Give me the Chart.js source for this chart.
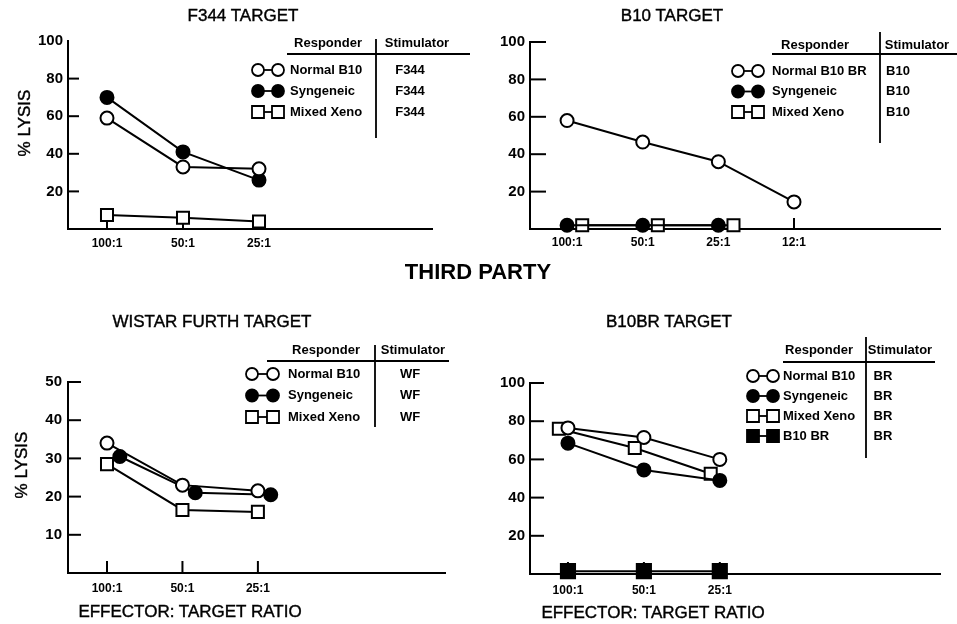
<!DOCTYPE html>
<html>
<head>
<meta charset="utf-8">
<title>Third party lysis</title>
<script src="https://cdn.jsdelivr.net/npm/chart.js@4.4.1/dist/chart.umd.min.js"></script>
<style>
  body { margin: 0; background: #fff; }
  #page { position: relative; width: 957px; height: 624px; overflow: hidden; font-family: "Liberation Sans", Arial, sans-serif; color: #000; }
  #page canvas { position: absolute; left: 0; top: 0; }
  .lbl { position: absolute; transform: translate(-50%, -50%); white-space: nowrap; -webkit-text-stroke: 0.4px #000; }
  .ttl { font-size: 17px; }
  .big { font-size: 22px; font-weight: bold; -webkit-text-stroke: 0; }
  .ylab { font-size: 17px; transform: translate(-50%, -50%) rotate(-90deg); }
  .xlab { font-size: 17px; }
</style>
</head>
<body>
<div id="page">
  <canvas id="f344" width="957" height="624"></canvas>
  <canvas id="b10" width="957" height="624"></canvas>
  <canvas id="wf" width="957" height="624"></canvas>
  <canvas id="b10br" width="957" height="624"></canvas>

  <div class="lbl ttl" style="left:243px;top:16px">F344 TARGET</div>
  <div class="lbl ttl" style="left:672px;top:16px">B10 TARGET</div>
  <div class="lbl big" style="left:478px;top:272px">THIRD PARTY</div>
  <div class="lbl ttl" style="left:212px;top:322px">WISTAR FURTH TARGET</div>
  <div class="lbl ttl" style="left:669px;top:322px">B10BR TARGET</div>
  <div class="lbl ylab" style="left:25px;top:123px">% LYSIS</div>
  <div class="lbl ylab" style="left:22px;top:465px">% LYSIS</div>
  <div class="lbl xlab" style="left:190px;top:612px">EFFECTOR: TARGET RATIO</div>
  <div class="lbl xlab" style="left:653px;top:613px">EFFECTOR: TARGET RATIO</div>
</div>

<script>
// effector : target ratios
var ratios = ['100:1', '50:1', '25:1'];
var ratiosB10 = ['100:1', '50:1', '25:1', '12:1'];

// y axis tick values
var ticks100 = [20, 40, 60, 80, 100];
var ticks50 = [10, 20, 30, 40, 50];

// F344 target, % lysis
var f344Normal = [59, 33, 32];
var f344Syngeneic = [70, 41, 26];
var f344Xeno = [7.5, 6, 4];

// B10 target
var b10Normal = [58, 46.5, 36, 14.5];
var b10Syngeneic = [2, 2, 2];
var b10Xeno = [2, 2, 2];

// Wistar Furth target
var wfNormal = [34, 23, 21.5];
var wfSyngeneic = [30.5, 21, 20.5];
var wfXeno = [28.5, 16.5, 16];

// B10BR target
var brNormal = [76.5, 71.5, 60];
var brSyngeneic = [68.5, 54.5, 49];
var brXeno = [76, 66, 52.5];
var brB10BR = [1.5, 1.5, 1.5];

// tick marks pointing into the plot
var innerTicks = {
  id: 'innerTicks',
  beforeDatasetsDraw: function (chart, args, o) {
    var ctx = chart.ctx, xs = chart.scales.x, ys = chart.scales.y;
    ctx.save();
    ctx.strokeStyle = '#000';
    ctx.lineWidth = 2;
    ys.ticks.forEach(function (t) {
      if (o.skipTop && t.value === ys.max) return;
      var py = ys.getPixelForValue(t.value);
      ctx.beginPath();
      ctx.moveTo(xs.left, py);
      ctx.lineTo(xs.left + o.yLen, py);
      ctx.stroke();
    });
    xs.ticks.forEach(function (t) {
      var px = xs.getPixelForValue(t.value);
      ctx.beginPath();
      ctx.moveTo(px, ys.bottom);
      ctx.lineTo(px, ys.bottom - o.xLen);
      ctx.stroke();
    });
    ctx.restore();
  }
};

function drawMark(ctx, shape, filled, x, y, r) {
  ctx.beginPath();
  if (shape === 'rect') ctx.rect(x - r, y - r, 2 * r, 2 * r);
  else ctx.arc(x, y, r, 0, Math.PI * 2);
  ctx.fillStyle = filled ? '#000' : '#fff';
  ctx.fill();
  ctx.stroke();
}

// Responder / Stimulator key drawn as a small ruled table
var keyTable = {
  id: 'keyTable',
  afterDraw: function (chart, args, o) {
    var ctx = chart.ctx;
    ctx.save();
    ctx.strokeStyle = '#000';
    ctx.fillStyle = '#000';
    ctx.lineWidth = 1.8;
    ctx.font = 'bold 13px "Liberation Sans", Arial, sans-serif';
    ctx.textBaseline = 'middle';
    ctx.textAlign = 'center';
    ctx.fillText('Responder', o.respX, o.headY);
    ctx.fillText('Stimulator', o.stimHeadX, o.headY);

    ctx.beginPath();
    ctx.moveTo(o.ruleX1, o.ruleY);
    ctx.lineTo(o.ruleX2, o.ruleY);
    ctx.moveTo(o.divX, o.divY1);
    ctx.lineTo(o.divX, o.divY2);
    ctx.stroke();

    chart.data.datasets.forEach(function (ds, i) {
      var y = o.rowY + i * o.rowDy;
      ctx.lineWidth = 1.8;
      ctx.strokeStyle = '#000';
      ctx.beginPath();
      ctx.moveTo(o.markX, y);
      ctx.lineTo(o.markX + o.markGap, y);
      ctx.stroke();
      drawMark(ctx, ds.pointStyle, ds.filled, o.markX, y, 6);
      drawMark(ctx, ds.pointStyle, ds.filled, o.markX + o.markGap, y, 6);
      ctx.fillStyle = '#000';
      ctx.textAlign = 'left';
      ctx.fillText(ds.label, o.textX, y);
      ctx.textAlign = 'center';
      ctx.fillText(o.stimulator, o.stimX, y);
    });
    ctx.restore();
  }
};

function series(label, values, shape, filled, dodge, radius) {
  return {
    label: label,
    data: values.map(function (v, i) { return { x: i + (dodge || 0), y: v }; }),
    filled: filled,
    borderColor: '#000',
    borderWidth: 2,
    pointStyle: shape,
    pointRadius: radius || (shape === 'rect' ? 8.5 : 6.5),
    pointBorderWidth: 2,
    pointBorderColor: '#000',
    pointBackgroundColor: filled ? '#000' : '#fff',
    tension: 0,
    clip: false
  };
}

var tickFont = { family: '"Liberation Sans", Arial, sans-serif', size: 15, weight: 'bold' };
var catFont = { family: '"Liberation Sans", Arial, sans-serif', size: 12, weight: 'bold' };

function makePanel(id, p) {
  return new Chart(document.getElementById(id), {
    type: 'line',
    data: { datasets: p.datasets },
    options: {
      responsive: false,
      animation: false,
      devicePixelRatio: 1,
      events: [],
      layout: {
        padding: { left: p.left - 40, right: 957 - p.right, top: p.top, bottom: 624 - p.bottom - 30 }
      },
      plugins: {
        legend: { display: false },
        tooltip: { enabled: false },
        innerTicks: p.ticks,
        keyTable: p.key
      },
      scales: {
        x: {
          type: 'linear',
          min: p.xMin,
          max: p.xMax,
          afterBuildTicks: function (axis) {
            axis.ticks = p.cats.map(function (c, i) { return { value: i }; });
          },
          afterFit: function (axis) { axis.height = 30; },
          ticks: {
            callback: function (v) { return p.cats[v]; },
            autoSkip: false,
            maxRotation: 0,
            padding: p.xPad,
            color: '#000',
            font: catFont
          },
          grid: { display: false, drawTicks: false },
          border: { display: true, color: '#000', width: 2 }
        },
        y: {
          type: 'linear',
          min: 0,
          max: p.yMax,
          afterBuildTicks: function (axis) {
            axis.ticks = p.yTicks.map(function (v) { return { value: v }; });
          },
          afterFit: function (axis) { axis.width = 40; },
          ticks: { padding: p.yPad, color: '#000', font: tickFont },
          grid: { display: false, drawTicks: false },
          border: { display: true, color: '#000', width: 2 }
        }
      }
    },
    plugins: [innerTicks, keyTable]
  });
}

makePanel('f344', {
  left: 68, right: 432, top: 41, bottom: 229,
  xMin: -0.513, xMax: 4.276, yMax: 100, yTicks: ticks100, cats: ratios,
  xPad: 7, yPad: 5,
  ticks: { yLen: 11, xLen: 12, skipTop: true },
  key: { respX: 328, stimHeadX: 417, headY: 43, ruleX1: 287, ruleX2: 470, ruleY: 54,
         divX: 376, divY1: 39, divY2: 138, rowY: 70, rowDy: 21, markX: 258, markGap: 20,
         textX: 290, stimX: 410, stimulator: 'F344' },
  datasets: [
    series('Normal B10', f344Normal, 'circle', false),
    series('Syngeneic', f344Syngeneic, 'circle', true),
    series('Mixed Xeno', f344Xeno, 'rect', false)
  ]
});

makePanel('b10', {
  left: 530, right: 940, top: 42, bottom: 229,
  xMin: -0.49, xMax: 4.93, yMax: 100, yTicks: ticks100, cats: ratiosB10,
  xPad: 6, yPad: 5,
  ticks: { yLen: 16, xLen: 11, skipTop: false },
  key: { respX: 815, stimHeadX: 917, headY: 45, ruleX1: 772, ruleX2: 957, ruleY: 54,
         divX: 880, divY1: 32, divY2: 143, rowY: 71, rowDy: 20.5, markX: 738, markGap: 20,
         textX: 772, stimX: 898, stimulator: 'B10' },
  datasets: [
    series('Normal B10 BR', b10Normal, 'circle', false),
    series('Syngeneic', b10Syngeneic, 'circle', true),
    series('Mixed Xeno', b10Xeno, 'rect', false, 0.2)
  ]
});

makePanel('wf', {
  left: 68, right: 445, top: 382, bottom: 573,
  xMin: -0.517, xMax: 4.48, yMax: 50, yTicks: ticks50, cats: ratios,
  xPad: 8, yPad: 6,
  ticks: { yLen: 13, xLen: 12, skipTop: false },
  key: { respX: 326, stimHeadX: 413, headY: 350, ruleX1: 267, ruleX2: 449, ruleY: 361,
         divX: 375, divY1: 345, divY2: 427, rowY: 374, rowDy: 21.5, markX: 252, markGap: 21,
         textX: 288, stimX: 410, stimulator: 'WF' },
  datasets: [
    series('Normal B10', wfNormal, 'circle', false),
    series('Syngeneic', wfSyngeneic, 'circle', true, 0.17),
    series('Mixed Xeno', wfXeno, 'rect', false)
  ]
});

makePanel('b10br', {
  left: 530, right: 940, top: 383, bottom: 574,
  xMin: -0.5, xMax: 4.9, yMax: 100, yTicks: ticks100, cats: ratios,
  xPad: 9, yPad: 5,
  ticks: { yLen: 14, xLen: 12, skipTop: false },
  key: { respX: 819, stimHeadX: 900, headY: 350, ruleX1: 783, ruleX2: 935, ruleY: 362,
         divX: 866, divY1: 337, divY2: 458, rowY: 376, rowDy: 20, markX: 753, markGap: 20,
         textX: 783, stimX: 883, stimulator: 'BR' },
  datasets: [
    series('Normal B10', brNormal, 'circle', false),
    series('Syngeneic', brSyngeneic, 'circle', true),
    series('Mixed Xeno', brXeno, 'rect', false, -0.12),
    series('B10 BR', brB10BR, 'rect', true, 0, 10)
  ]
});
</script>
</body>
</html>
